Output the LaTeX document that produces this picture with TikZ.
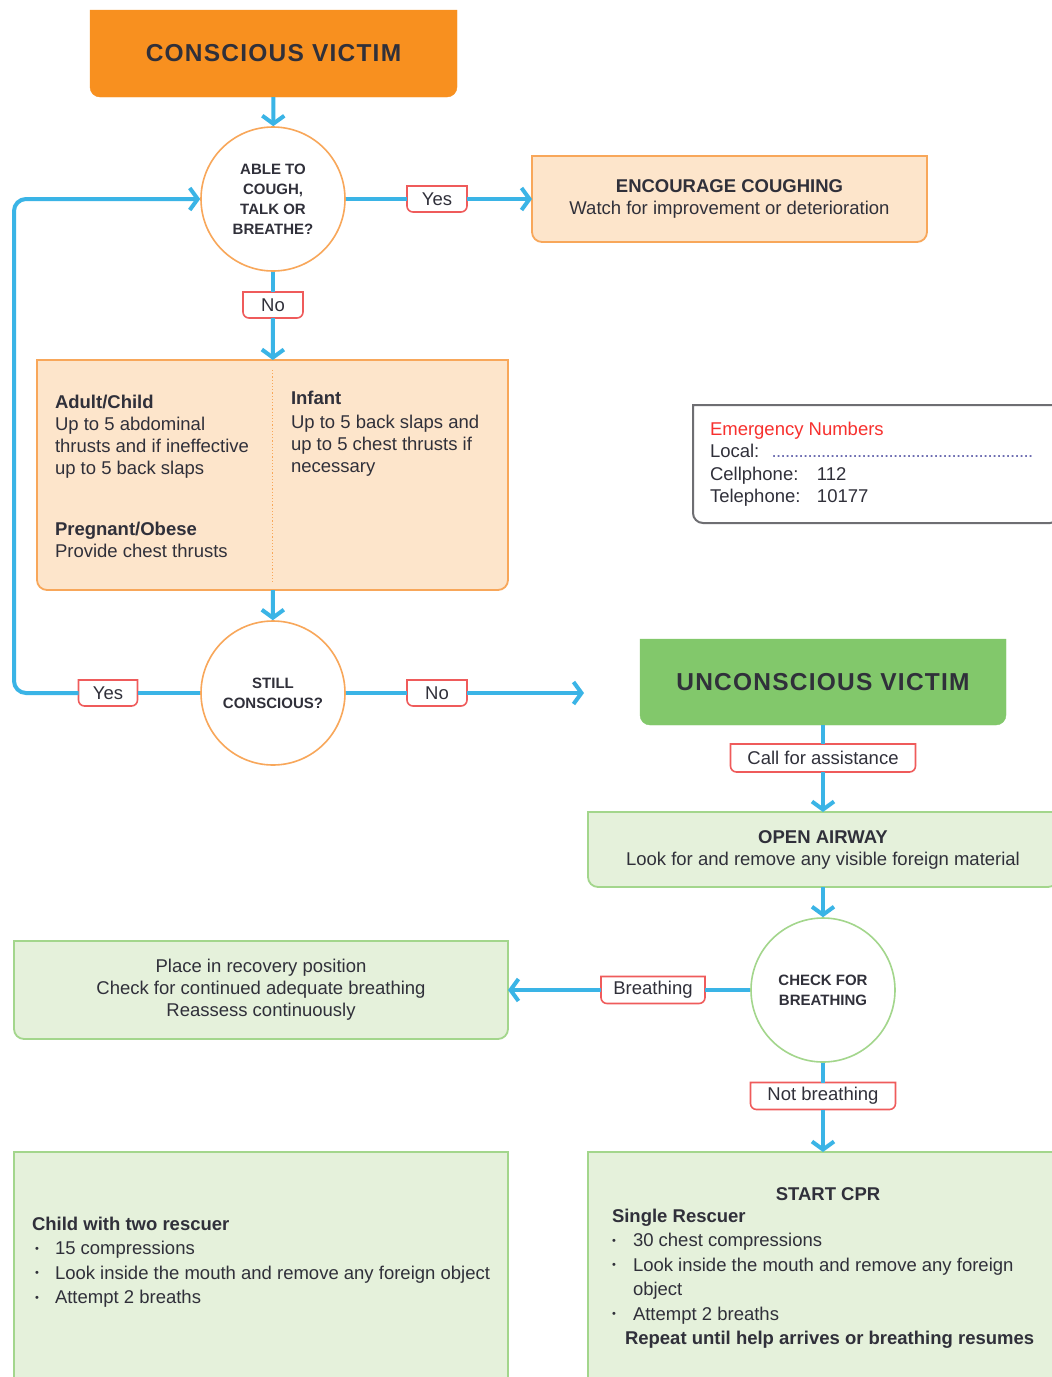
\documentclass[tikz,border=0pt]{standalone}
\usepackage{fontspec}
\setmainfont{Liberation Sans}
\usetikzlibrary{arrows.meta,backgrounds}

\definecolor{flowblue}{HTML}{3AB4E6}
\definecolor{titleorange}{HTML}{F8901F}
\definecolor{peachfill}{HTML}{FDE5CB}
\definecolor{peachline}{HTML}{F8A75A}
\definecolor{titlegreen}{HTML}{82C86B}
\definecolor{mintfill}{HTML}{E5F1DB}
\definecolor{mintline}{HTML}{A3D68C}
\definecolor{tagred}{HTML}{EF5B5B}
\definecolor{inkdark}{HTML}{30303A}
\definecolor{alertred}{HTML}{F7302E}
\definecolor{framegray}{HTML}{6E6E72}
\definecolor{dotblue}{HTML}{6A6AB0}

\newcommand\fcBody{\fontsize{18.5}{22}\selectfont}
\newcommand\fcWide{\fontsize{18.5}{24.5}\selectfont}
\newcommand\fcNum{\fontsize{18.5}{22.5}\selectfont}
\newcommand\fcTitle{\fontsize{24.5}{28}\selectfont\bfseries\addfontfeatures{LetterSpace=5}}
\newcommand\fcAsk{\fontsize{15}{20}\selectfont\bfseries}
\newcommand\dotrule[1]{\hbox to #1{\leaders\hbox to 4.5pt{\hss\textcolor{dotblue}{.}\hss}\hfill}}
\newcommand\bul[1]{\makebox[#1][l]{\raisebox{2.5pt}{\fontsize{11}{11}\selectfont\textbullet}}}

% outline with square top corners and rounded bottom corners around a node
\newcommand\outlineBR[3]{%
  \draw[#3] (#1.north west) -- (#1.north east) -- ([yshift=#2]#1.south east)
    arc[start angle=0,end angle=-90,radius=#2] -- ([xshift=#2]#1.south west)
    arc[start angle=270,end angle=180,radius=#2] -- cycle;}

\begin{document}
\begin{tikzpicture}[x=1pt,y=1pt,
  blk/.style={inner sep=0pt, outer sep=0pt, text=inkdark},
  ask/.style={circle, draw=#1, line width=1.6pt, fill=white, minimum size=144pt,
    inner sep=0pt, align=center, font=\fcAsk, text=inkdark},
  tag/.style={inner sep=0pt, outer sep=0pt, minimum height=26pt, font=\fcBody, text=inkdark},
  flow/.style={draw=flowblue, line width=4pt},
  flowarrow/.style={flow, -{Straight Barb[length=8pt,width=22pt]}},
  peachbox/.style={fill=peachfill, draw=peachline, line width=1.8pt},
  mintbox/.style={fill=mintfill, draw=mintline, line width=1.8pt},
  tagbox/.style={fill=white, draw=tagred, line width=1.6pt}]

\useasboundingbox (0,0) rectangle (1052,-1377);

% ---------- conscious branch ----------
\node[blk, minimum width=367pt, minimum height=87pt, font=\fcTitle] (cv) at (273.5,-53.5) {CONSCIOUS VICTIM};
\node[ask=peachline] (q1) at (273,-199) {ABLE TO\\COUGH,\\TALK OR\\BREATHE?};
\node[tag, minimum width=60pt] (yes1) at (437,-199) {Yes};
\node[blk, minimum width=395pt, minimum height=86pt, align=center, font=\fcBody] (enc) at (729.5,-199)
  {\textbf{ENCOURAGE COUGHING}\\Watch for improvement or deterioration};
\node[tag, minimum width=60pt] (no1) at (273,-305) {No};

\node[blk, minimum width=471pt, minimum height=230pt] (big) at (272.5,-475) {};
\node[blk, anchor=north west, align=left, font=\fcBody] (adult) at (55,-395)
  {\textbf{Adult/Child}\\Up to 5 abdominal\\thrusts and if ineffective\\up to 5 back slaps};
\node[blk, anchor=north west, align=left, font=\fcBody] (preg) at (55,-522)
  {\textbf{Pregnant/Obese}\\Provide chest thrusts};
\node[blk, anchor=north west, align=left, font=\fcBody] (inf) at (291,-391)
  {\textbf{Infant}\\[2pt]Up to 5 back slaps and\\up to 5 chest thrusts if\\necessary};

\node[ask=peachline] (q2) at (273,-693) {STILL\\CONSCIOUS?};
\node[tag, minimum width=59pt] (yes2) at (108,-693) {Yes};
\node[tag, minimum width=60pt] (no2) at (437,-693) {No};
\coordinate (loopA) at (14,-693);
\coordinate (loopB) at (14,-199);
\coordinate (noEnd) at (584,-693);

% ---------- emergency numbers ----------
\node[blk, minimum width=367pt, minimum height=118pt] (em) at (876.5,-464) {};
\node[blk, anchor=north west, align=left, font=\fcNum] (emtext) at (710,-422)
  {\textcolor{alertred}{Emergency Numbers}\\
   \makebox[62pt][l]{Local:}\dotrule{265pt}\\
   \makebox[107pt][l]{Cellphone:}112\\
   \makebox[107pt][l]{Telephone:}10177};

% ---------- unconscious branch ----------
\node[blk, minimum width=366pt, minimum height=86pt, font=\fcTitle] (ucv) at (823,-682) {UNCONSCIOUS VICTIM};
\node[tag, minimum width=185pt, minimum height=28pt] (call) at (823,-758) {Call for assistance};
\node[blk, minimum width=470pt, minimum height=75pt, align=center, font=\fcBody] (oa) at (823,-849.5)
  {\textbf{OPEN AIRWAY}\\Look for and remove any visible foreign material};
\node[ask=mintline] (q3) at (823,-990) {CHECK FOR\\BREATHING};
\node[tag, minimum width=104pt, minimum height=27pt] (brth) at (653,-990) {Breathing};
\node[blk, minimum width=494pt, minimum height=98pt, align=center, font=\fcBody] (rec) at (261,-990)
  {Place in recovery position\\Check for continued adequate breathing\\Reassess continuously};
\node[tag, minimum width=145pt, minimum height=27pt] (nbr) at (823,-1096) {Not breathing};

\node[blk, minimum width=470pt, minimum height=238pt] (cpr) at (823,-1271) {};
\node[blk, font=\fcBody\bfseries] (cprhead) at (828,-1194) {START CPR};
\node[blk, anchor=north west, align=left, font=\fcWide] (cprlist) at (612,-1209)
  {\textbf{Single Rescuer}\\
   \bul{21pt}30 chest compressions\\
   \bul{21pt}Look inside the mouth and remove any foreign\\
   \hspace*{21pt}object\\
   \bul{21pt}Attempt 2 breaths\\
   \hspace*{13pt}\textbf{Repeat until help arrives or breathing resumes}};

\node[blk, minimum width=494pt, minimum height=238pt] (child) at (261,-1271) {};
\node[blk, anchor=north west, align=left, font=\fcWide] (childlist) at (32,-1217)
  {\textbf{Child with two rescuer}\\
   \hspace*{3pt}\bul{20pt}15 compressions\\
   \hspace*{3pt}\bul{20pt}Look inside the mouth and remove any foreign object\\
   \hspace*{3pt}\bul{20pt}Attempt 2 breaths};

% ---------- box outlines ----------
\begin{scope}[on background layer]
  \fill[white] (0,0) rectangle (1052,-1377);
  \outlineBR{cv}{10pt}{fill=titleorange, draw=titleorange}
  \outlineBR{enc}{10pt}{peachbox}
  \outlineBR{big}{10pt}{peachbox}
  \draw[peachline, line width=1.2pt, dotted] ([yshift=-10pt]big.north) -- ([yshift=8pt]big.south);
  \outlineBR{em}{10pt}{fill=white, draw=framegray, line width=2pt}
  \outlineBR{ucv}{10pt}{fill=titlegreen, draw=titlegreen}
  \outlineBR{oa}{10pt}{mintbox}
  \outlineBR{rec}{10pt}{mintbox}
  \outlineBR{cpr}{10pt}{mintbox}
  \outlineBR{child}{10pt}{mintbox}
  \foreach \t in {yes1,no1,yes2,no2,call,brth,nbr}{\outlineBR{\t}{6pt}{tagbox}}
\end{scope}

% ---------- connectors ----------
\draw[flowarrow] (cv) -- (q1);
\draw[flow] (q1) -- (yes1);
\draw[flowarrow] (yes1) -- (enc);
\draw[flow] (q1) -- (no1);
\draw[flowarrow] (no1) -- (big);
\draw[flowarrow] (big) -- (q2);
\draw[flow] (q2) -- (yes2);
\draw[flowarrow, rounded corners=12pt] (yes2) -- (loopA) -- (loopB) -- (q1);
\draw[flow] (q2) -- (no2);
\draw[flowarrow] (no2) -- (noEnd);
\draw[flow] (ucv) -- (call);
\draw[flowarrow] (call) -- (oa);
\draw[flowarrow] (oa) -- (q3);
\draw[flow] (q3) -- (brth);
\draw[flowarrow] (brth) -- (rec);
\draw[flow] (q3) -- (nbr);
\draw[flowarrow] (nbr) -- (cpr);
\end{tikzpicture}
\end{document}
